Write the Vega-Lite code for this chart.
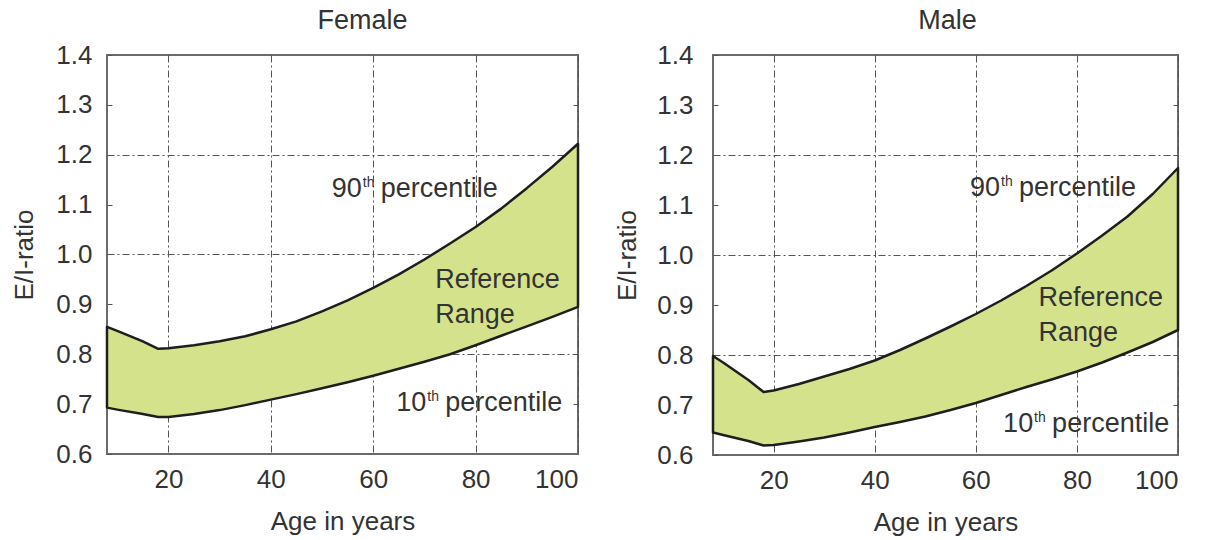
{
  "$schema": "https://vega.github.io/schema/vega-lite/v6.json",
  "background": "white",
  "padding": {"left": 10, "top": 6, "right": 5, "bottom": 5},
  "spacing": 32,
  "config": {
    "font": "Liberation Sans",
    "view": {"stroke": "#6a6a6a", "strokeWidth": 2},
    "axis": {
      "labelFont": "Liberation Sans", "labelFontSize": 26, "labelColor": "#333333",
      "titleFont": "Liberation Sans", "titleFontSize": 26, "titleFontWeight": "normal", "titleColor": "#333333",
      "domain": false, "zindex": 1,
      "gridColor": "#555555", "gridDash": [7, 3, 2, 3], "gridWidth": 1,
      "tickColor": "#555555", "tickWidth": 1
    },
    "title": {"font": "Liberation Sans", "fontSize": 27, "fontWeight": "normal", "color": "#333333", "offset": 7}
  },
  "datasets": {
    "bands": [
      {"sex": "Female", "age": 8, "p10": 0.693, "p90": 0.855},
      {"sex": "Female", "age": 10, "p10": 0.689, "p90": 0.847},
      {"sex": "Female", "age": 15, "p10": 0.680, "p90": 0.826},
      {"sex": "Female", "age": 18, "p10": 0.674, "p90": 0.811},
      {"sex": "Female", "age": 20, "p10": 0.674, "p90": 0.812},
      {"sex": "Female", "age": 25, "p10": 0.680, "p90": 0.818},
      {"sex": "Female", "age": 30, "p10": 0.688, "p90": 0.826},
      {"sex": "Female", "age": 35, "p10": 0.698, "p90": 0.836},
      {"sex": "Female", "age": 40, "p10": 0.709, "p90": 0.850},
      {"sex": "Female", "age": 45, "p10": 0.720, "p90": 0.866},
      {"sex": "Female", "age": 50, "p10": 0.732, "p90": 0.886},
      {"sex": "Female", "age": 55, "p10": 0.744, "p90": 0.908},
      {"sex": "Female", "age": 60, "p10": 0.757, "p90": 0.933},
      {"sex": "Female", "age": 65, "p10": 0.771, "p90": 0.960},
      {"sex": "Female", "age": 70, "p10": 0.785, "p90": 0.990},
      {"sex": "Female", "age": 75, "p10": 0.800, "p90": 1.022},
      {"sex": "Female", "age": 80, "p10": 0.818, "p90": 1.055},
      {"sex": "Female", "age": 85, "p10": 0.837, "p90": 1.092},
      {"sex": "Female", "age": 90, "p10": 0.856, "p90": 1.133},
      {"sex": "Female", "age": 95, "p10": 0.875, "p90": 1.176},
      {"sex": "Female", "age": 100, "p10": 0.895, "p90": 1.222},
      {"sex": "Male", "age": 8, "p10": 0.645, "p90": 0.798},
      {"sex": "Male", "age": 10, "p10": 0.640, "p90": 0.785},
      {"sex": "Male", "age": 15, "p10": 0.628, "p90": 0.750},
      {"sex": "Male", "age": 18, "p10": 0.619, "p90": 0.726},
      {"sex": "Male", "age": 20, "p10": 0.620, "p90": 0.729},
      {"sex": "Male", "age": 25, "p10": 0.627, "p90": 0.742},
      {"sex": "Male", "age": 30, "p10": 0.635, "p90": 0.757},
      {"sex": "Male", "age": 35, "p10": 0.645, "p90": 0.772},
      {"sex": "Male", "age": 40, "p10": 0.656, "p90": 0.789},
      {"sex": "Male", "age": 45, "p10": 0.666, "p90": 0.810},
      {"sex": "Male", "age": 50, "p10": 0.677, "p90": 0.833},
      {"sex": "Male", "age": 55, "p10": 0.690, "p90": 0.857},
      {"sex": "Male", "age": 60, "p10": 0.704, "p90": 0.882},
      {"sex": "Male", "age": 65, "p10": 0.720, "p90": 0.909},
      {"sex": "Male", "age": 70, "p10": 0.736, "p90": 0.938},
      {"sex": "Male", "age": 75, "p10": 0.751, "p90": 0.969},
      {"sex": "Male", "age": 80, "p10": 0.767, "p90": 1.003},
      {"sex": "Male", "age": 85, "p10": 0.785, "p90": 1.039},
      {"sex": "Male", "age": 90, "p10": 0.805, "p90": 1.077},
      {"sex": "Male", "age": 95, "p10": 0.826, "p90": 1.122},
      {"sex": "Male", "age": 100, "p10": 0.850, "p90": 1.174}
    ],
    "notes": [
      {"sex": "Female", "part": "num", "label": "90", "age": 51.9, "ratio": 1.115},
      {"sex": "Female", "part": "sup", "label": "th", "age": 51.9, "ratio": 1.115},
      {"sex": "Female", "part": "after", "label": "percentile", "age": 51.9, "ratio": 1.115},
      {"sex": "Female", "part": "word", "label": "Reference", "age": 72.1, "ratio": 0.933},
      {"sex": "Female", "part": "word", "label": "Range", "age": 72.1, "ratio": 0.863},
      {"sex": "Female", "part": "num", "label": "10", "age": 64.5, "ratio": 0.687},
      {"sex": "Female", "part": "sup", "label": "th", "age": 64.5, "ratio": 0.687},
      {"sex": "Female", "part": "after", "label": "percentile", "age": 64.5, "ratio": 0.687},
      {"sex": "Male", "part": "num", "label": "90", "age": 58.85, "ratio": 1.118},
      {"sex": "Male", "part": "sup", "label": "th", "age": 58.85, "ratio": 1.118},
      {"sex": "Male", "part": "after", "label": "percentile", "age": 58.85, "ratio": 1.118},
      {"sex": "Male", "part": "word", "label": "Reference", "age": 72.4, "ratio": 0.898},
      {"sex": "Male", "part": "word", "label": "Range", "age": 72.4, "ratio": 0.829},
      {"sex": "Male", "part": "num", "label": "10", "age": 65.4, "ratio": 0.647},
      {"sex": "Male", "part": "sup", "label": "th", "age": 65.4, "ratio": 0.647},
      {"sex": "Male", "part": "after", "label": "percentile", "age": 65.4, "ratio": 0.647}
    ]
  },
  "hconcat": [
    {
      "width": 471, "height": 399,
      "title": {"text": "Female", "dx": 20},
      "resolve": {"axis": {"x": "independent", "y": "independent"}},
      "layer": [
        {
          "data": {"name": "bands"},
          "transform": [{"filter": "datum.sex === 'Female'"}],
          "mark": {"type": "area", "fill": "#d5e28c", "stroke": "#1e1e1e", "strokeWidth": 2.5, "strokeJoin": "round"},
          "encoding": {
            "x": {"field": "age", "type": "quantitative", "scale": {"domain": [8, 100], "nice": false, "zero": false},
                  "axis": {"orient": "bottom", "values": [20, 40, 60, 80, 100], "title": "Age in years", "grid": true, "ticks": false, "labelPadding": 12, "titlePadding": 16}},
            "y": {"field": "p90", "type": "quantitative", "scale": {"domain": [0.6, 1.4], "nice": false, "zero": false},
                  "axis": {"orient": "left", "values": [0.6, 0.7, 0.8, 0.9, 1.0, 1.1, 1.2, 1.3, 1.4], "format": ".1f", "title": "E/I-ratio", "grid": true,
                           "gridOpacity": {"condition": {"test": "abs(datum.value-0.8)<0.01 || abs(datum.value-1)<0.01 || abs(datum.value-1.2)<0.01", "value": 1}, "value": 0},
                           "ticks": true, "tickSize": -5, "labelPadding": 20, "titlePadding": 18}},
            "y2": {"field": "p10"}
          }
        },
        {
          "data": {"name": "notes"},
          "transform": [{"filter": "datum.sex === 'Female' && datum.part === 'num'"}],
          "mark": {"type": "text", "align": "left", "baseline": "alphabetic", "fontSize": 27, "color": "#333333"},
          "encoding": {
            "x": {"field": "age", "type": "quantitative", "scale": {"domain": [8, 100], "nice": false, "zero": false}, "axis": null},
            "y": {"field": "ratio", "type": "quantitative", "scale": {"domain": [0.6, 1.4], "nice": false, "zero": false}, "axis": null},
            "text": {"field": "label"}
          }
        },
        {
          "data": {"name": "notes"},
          "transform": [{"filter": "datum.sex === 'Female' && datum.part === 'sup'"}],
          "mark": {"type": "text", "align": "left", "baseline": "alphabetic", "fontSize": 14, "dx": 31, "dy": -10, "color": "#333333"},
          "encoding": {
            "x": {"field": "age", "type": "quantitative", "scale": {"domain": [8, 100], "nice": false, "zero": false}, "axis": null},
            "y": {"field": "ratio", "type": "quantitative", "scale": {"domain": [0.6, 1.4], "nice": false, "zero": false}, "axis": null},
            "text": {"field": "label"}
          }
        },
        {
          "data": {"name": "notes"},
          "transform": [{"filter": "datum.sex === 'Female' && datum.part === 'after'"}],
          "mark": {"type": "text", "align": "left", "baseline": "alphabetic", "fontSize": 27, "dx": 49, "color": "#333333"},
          "encoding": {
            "x": {"field": "age", "type": "quantitative", "scale": {"domain": [8, 100], "nice": false, "zero": false}, "axis": null},
            "y": {"field": "ratio", "type": "quantitative", "scale": {"domain": [0.6, 1.4], "nice": false, "zero": false}, "axis": null},
            "text": {"field": "label"}
          }
        },
        {
          "data": {"name": "notes"},
          "transform": [{"filter": "datum.sex === 'Female' && datum.part === 'word'"}],
          "mark": {"type": "text", "align": "left", "baseline": "alphabetic", "fontSize": 27, "color": "#333333"},
          "encoding": {
            "x": {"field": "age", "type": "quantitative", "scale": {"domain": [8, 100], "nice": false, "zero": false},
                  "axis": {"orient": "top", "values": [20, 40, 60, 80], "labels": false, "title": null, "grid": false, "ticks": true, "tickSize": -5}},
            "y": {"field": "ratio", "type": "quantitative", "scale": {"domain": [0.6, 1.4], "nice": false, "zero": false},
                  "axis": {"orient": "right", "values": [0.7, 0.8, 0.9, 1.0, 1.1, 1.2, 1.3], "labels": false, "title": null, "grid": false, "ticks": true, "tickSize": -5}},
            "text": {"field": "label"}
          }
        }
      ]
    },
    {
      "width": 465, "height": 400,
      "title": {"text": "Male", "dx": 2},
      "resolve": {"axis": {"x": "independent", "y": "independent"}},
      "layer": [
        {
          "data": {"name": "bands"},
          "transform": [{"filter": "datum.sex === 'Male'"}],
          "mark": {"type": "area", "fill": "#d5e28c", "stroke": "#1e1e1e", "strokeWidth": 2.5, "strokeJoin": "round"},
          "encoding": {
            "x": {"field": "age", "type": "quantitative", "scale": {"domain": [8, 100], "nice": false, "zero": false},
                  "axis": {"orient": "bottom", "values": [20, 40, 60, 80, 100], "title": "Age in years", "grid": true, "ticks": false, "labelPadding": 12, "titlePadding": 16}},
            "y": {"field": "p90", "type": "quantitative", "scale": {"domain": [0.6, 1.4], "nice": false, "zero": false},
                  "axis": {"orient": "left", "values": [0.6, 0.7, 0.8, 0.9, 1.0, 1.1, 1.2, 1.3, 1.4], "format": ".1f", "title": "E/I-ratio", "grid": true,
                           "gridOpacity": {"condition": {"test": "abs(datum.value-0.8)<0.01 || abs(datum.value-1)<0.01 || abs(datum.value-1.2)<0.01", "value": 1}, "value": 0},
                           "ticks": true, "tickSize": -5, "labelPadding": 25, "titlePadding": 16}},
            "y2": {"field": "p10"}
          }
        },
        {
          "data": {"name": "notes"},
          "transform": [{"filter": "datum.sex === 'Male' && datum.part === 'num'"}],
          "mark": {"type": "text", "align": "left", "baseline": "alphabetic", "fontSize": 27, "color": "#333333"},
          "encoding": {
            "x": {"field": "age", "type": "quantitative", "scale": {"domain": [8, 100], "nice": false, "zero": false}, "axis": null},
            "y": {"field": "ratio", "type": "quantitative", "scale": {"domain": [0.6, 1.4], "nice": false, "zero": false}, "axis": null},
            "text": {"field": "label"}
          }
        },
        {
          "data": {"name": "notes"},
          "transform": [{"filter": "datum.sex === 'Male' && datum.part === 'sup'"}],
          "mark": {"type": "text", "align": "left", "baseline": "alphabetic", "fontSize": 14, "dx": 31, "dy": -10, "color": "#333333"},
          "encoding": {
            "x": {"field": "age", "type": "quantitative", "scale": {"domain": [8, 100], "nice": false, "zero": false}, "axis": null},
            "y": {"field": "ratio", "type": "quantitative", "scale": {"domain": [0.6, 1.4], "nice": false, "zero": false}, "axis": null},
            "text": {"field": "label"}
          }
        },
        {
          "data": {"name": "notes"},
          "transform": [{"filter": "datum.sex === 'Male' && datum.part === 'after'"}],
          "mark": {"type": "text", "align": "left", "baseline": "alphabetic", "fontSize": 27, "dx": 49, "color": "#333333"},
          "encoding": {
            "x": {"field": "age", "type": "quantitative", "scale": {"domain": [8, 100], "nice": false, "zero": false}, "axis": null},
            "y": {"field": "ratio", "type": "quantitative", "scale": {"domain": [0.6, 1.4], "nice": false, "zero": false}, "axis": null},
            "text": {"field": "label"}
          }
        },
        {
          "data": {"name": "notes"},
          "transform": [{"filter": "datum.sex === 'Male' && datum.part === 'word'"}],
          "mark": {"type": "text", "align": "left", "baseline": "alphabetic", "fontSize": 27, "color": "#333333"},
          "encoding": {
            "x": {"field": "age", "type": "quantitative", "scale": {"domain": [8, 100], "nice": false, "zero": false},
                  "axis": {"orient": "top", "values": [20, 40, 60, 80], "labels": false, "title": null, "grid": false, "ticks": true, "tickSize": -5}},
            "y": {"field": "ratio", "type": "quantitative", "scale": {"domain": [0.6, 1.4], "nice": false, "zero": false},
                  "axis": {"orient": "right", "values": [0.7, 0.8, 0.9, 1.0, 1.1, 1.2, 1.3], "labels": false, "title": null, "grid": false, "ticks": true, "tickSize": -5}},
            "text": {"field": "label"}
          }
        }
      ]
    }
  ]
}
